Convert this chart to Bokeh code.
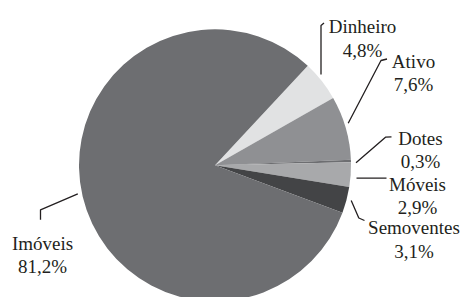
import numpy as np
from bokeh.plotting import figure
from bokeh.models import Range1d, ColumnDataSource
from bokeh.core.properties import value
from bokeh.embed import file_html
from bokeh.resources import INLINE

# ---- data ----
categories = ["Dinheiro", "Ativo", "Dotes", "Móveis", "Semoventes", "Imóveis"]
shares = [4.8, 7.6, 0.3, 2.9, 3.1, 81.2]
share_labels = ["4,8%", "7,6%", "0,3%", "2,9%", "3,1%", "81,2%"]
colors = ["#e1e2e3", "#8f9093", "#6d6e71", "#a8a9ab", "#434446", "#6d6e71"]

# ---- layout (picture pixel coordinates, then converted) ----
W, H = 464, 297
def px(X):
    return X
def py(Y):
    return H - Y

cx, cy, r = px(214.5), py(164.8), 136
start_deg = 47.0

vals = np.array(shares, dtype=float)
k = 360.0 / vals.sum()
cum = np.concatenate([[0], np.cumsum(vals)])
top = np.radians(start_deg - cum[:-1] * k)
bot = np.radians(start_deg - cum[1:] * k)

src = ColumnDataSource(dict(start=bot, end=top, color=colors, cat=categories))

p = figure(width=W, height=H, x_range=Range1d(0, W), y_range=Range1d(0, H),
           output_backend="svg", toolbar_location=None, min_border=0,
           background_fill_color="white", border_fill_color="white")
p.axis.visible = False
p.grid.visible = False
p.outline_line_color = None

p.wedge(x=cx, y=cy, radius=r, start_angle="start", end_angle="end",
        fill_color="color", line_color=None, source=src)

# leader lines (picture coords)
leaders = [
    [(320.5, 74), (320.5, 25), (323.5, 22.5)],
    [(347.7, 122.7), (380.5, 60), (386.5, 58.5)],
    [(355.5, 162.3), (385, 136.7), (391, 136.3)],
    [(356, 177.7), (386, 177.7)],
    [(350.7, 200), (358.3, 217.5), (364, 220)],
    [(77.3, 193.3), (40, 209.3), (40, 219.3)],
]
for pts in leaders:
    p.line([px(a) for a, b in pts], [py(b) for a, b in pts],
           line_color="#231f20", line_width=1.3)

# label anchors: (center x, baseline of name, baseline of percent)
anchors = [
    (362, 25.5, 49.5),
    (413, 61, 84),
    (420, 137.5, 161),
    (417, 183.5, 207),
    (413.5, 227, 251),
    (42, 243, 266),
]
tx, ty, tt = [], [], []
for (x0, b1, b2), name, pct in zip(anchors, categories, share_labels):
    tx += [px(x0), px(x0)]
    ty += [py(b1), py(b2)]
    tt += [name, pct]
p.text(x=tx, y=ty, text=tt, text_align="center", text_baseline="alphabetic",
       text_font=value("Liberation Serif"), text_font_size="19px", text_color="#231f20")

open("out.html", "w").write(file_html(p, INLINE))
